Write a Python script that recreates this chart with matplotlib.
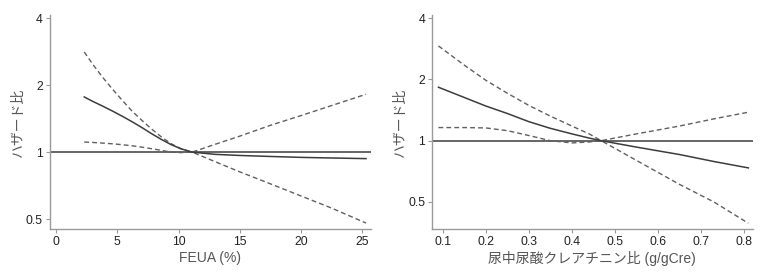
import matplotlib
matplotlib.use('Agg')
import matplotlib.pyplot as plt
from matplotlib.ticker import FixedLocator, FixedFormatter, NullLocator

plt.rcParams['font.family'] = ['Liberation Sans', 'Noto Sans CJK JP']

# left panel: FEUA (%)
feua_x = [2.3, 3.0, 3.8, 4.6, 5.4, 6.2, 7.0, 7.8, 8.6, 9.4, 10.2, 11.1, 13, 15, 17.5, 20, 22.5, 25.3]
feua_hr = [1.77, 1.69, 1.61, 1.53, 1.45, 1.37, 1.29, 1.21, 1.14, 1.08, 1.035, 1.0, 0.977, 0.966, 0.956, 0.947, 0.941, 0.935]
feua_hi = [2.82, 2.48, 2.17, 1.92, 1.71, 1.53, 1.39, 1.27, 1.17, 1.09, 1.035, 1.0, 1.085, 1.18, 1.32, 1.46, 1.62, 1.82]
feua_lo = [1.11, 1.105, 1.098, 1.09, 1.08, 1.068, 1.053, 1.036, 1.018, 1.0, 0.995, 1.0, 0.905, 0.815, 0.72, 0.635, 0.56, 0.48]

# right panel: urinary uric acid / creatinine ratio
ua_x = [0.09, 0.15, 0.2, 0.25, 0.3, 0.35, 0.4, 0.44, 0.468, 0.55, 0.65, 0.73, 0.81]
ua_hr = [1.83, 1.63, 1.48, 1.36, 1.24, 1.15, 1.08, 1.03, 1.0, 0.93, 0.855, 0.79, 0.735]
ua_hi = [2.92, 2.35, 1.98, 1.71, 1.49, 1.32, 1.18, 1.08, 1.0, 1.08, 1.18, 1.28, 1.38]
ua_lo = [1.16, 1.16, 1.155, 1.12, 1.06, 1.0, 0.975, 0.985, 1.0, 0.80, 0.61, 0.50, 0.393]

y_ticks = [0.5, 1, 2, 4]
y_labels = ['0.5', '1', '2', '4']
feua_ticks = [0, 5, 10, 15, 20, 25]
ua_ticks = [0.1, 0.2, 0.3, 0.4, 0.5, 0.6, 0.7, 0.8]

ylab = 'ハザード比'

fig = plt.figure(figsize=(7.68, 2.74), dpi=100)
ax1 = fig.add_axes([0.065, 0.164, 0.418, 0.781])
ax2 = fig.add_axes([0.5625, 0.164, 0.4175, 0.781])

spine_c = '#9a9a9a'
line_c = '#3c3c3c'
dash_c = '#606060'


def style(ax, x, hr, hi, lo, xticks, xlabel, xlim, ylim):
    ax.axhline(1, color=line_c, lw=1.1, zorder=1)
    ax.plot(x, hi, color=dash_c, lw=1.0, ls=(0, (3.5, 2.2)))
    ax.plot(x, lo, color=dash_c, lw=1.0, ls=(0, (3.5, 2.2)))
    ax.plot(x, hr, color=line_c, lw=1.1)
    ax.set_yscale('log')
    ax.set_xlim(*xlim)
    ax.set_ylim(*ylim)
    ax.yaxis.set_major_locator(FixedLocator(y_ticks))
    ax.yaxis.set_major_formatter(FixedFormatter(y_labels))
    ax.yaxis.set_minor_locator(NullLocator())
    ax.set_xticks(xticks)
    ax.set_xticklabels([('%g' % t) for t in xticks])
    for s in ['top', 'right']:
        ax.spines[s].set_visible(False)
    for s in ['left', 'bottom']:
        ax.spines[s].set_color(spine_c)
        ax.spines[s].set_linewidth(1.0)
    ax.tick_params(axis='both', length=3, width=0.8, color=spine_c,
                   labelsize=8.8, labelcolor='#222222', pad=2)
    ax.set_xlabel(xlabel, fontsize=10, color='#555555', labelpad=2)
    ax.set_ylabel(ylab, fontsize=10, color='#555555', labelpad=1)


style(ax1, feua_x, feua_hr, feua_hi, feua_lo, feua_ticks, 'FEUA (%)',
      (-0.5, 25.7), (0.451, 4.13))
style(ax2, ua_x, ua_hr, ua_hi, ua_lo, ua_ticks, '尿中尿酸クレアチニン比 (g/gCre)',
      (0.075, 0.82), (0.368, 4.14))

fig.savefig('out.png', dpi=100, facecolor='white')
